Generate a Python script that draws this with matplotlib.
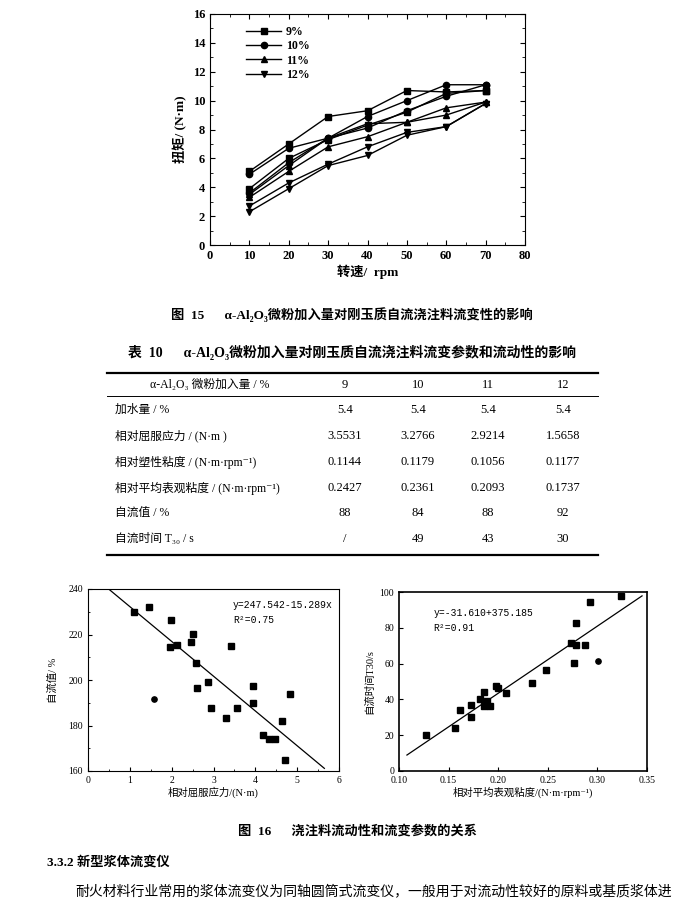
import matplotlib.pyplot as plt
from matplotlib.lines import Line2D
from matplotlib.ticker import MultipleLocator

plt.rcParams['font.family'] = ['Liberation Serif', 'Noto Sans CJK SC', 'DejaVu Serif']

# Fig 15 data: torque vs speed, up and down curves per dosage
speed = [10, 20, 30, 40, 50, 60, 70]
dosage_labels = ['9%', '10%', '11%', '12%']
markers = ['s', 'o', '^', 'v']
torque_up = [
    [5.1, 7.0, 8.9, 9.3, 10.7, 10.6, 10.7],
    [4.9, 6.7, 7.4, 8.9, 10.0, 11.1, 11.1],
    [3.5, 5.5, 7.4, 8.4, 8.5, 9.5, 9.9],
    [2.7, 4.3, 5.6, 6.8, 7.8, 8.2, 9.8],
]
torque_down = [
    [3.9, 6.0, 7.3, 8.3, 9.2, 10.5, 10.7],
    [3.6, 5.7, 7.4, 8.1, 9.3, 10.3, 11.1],
    [3.3, 5.1, 6.8, 7.5, 8.5, 9.0, 9.9],
    [2.3, 3.9, 5.5, 6.2, 7.6, 8.2, 9.8],
]

# Table 10
col_header = 'α-Al₂O₃ 微粉加入量 / %'
col_values = ['9', '10', '11', '12']
row_labels = ['加水量 / %', '相对屈服应力 / (N·m )', '相对塑性粘度 / (N·m·rpm⁻¹)',
              '相对平均表观粘度 / (N·m·rpm⁻¹)', '自流值 / %', '自流时间 T₃₀ / s']
row_values = [
    ['5.4', '5.4', '5.4', '5.4'],
    ['3.5531', '3.2766', '2.9214', '1.5658'],
    ['0.1144', '0.1179', '0.1056', '0.1177'],
    ['0.2427', '0.2361', '0.2093', '0.1737'],
    ['88', '84', '88', '92'],
    ['/', '49', '43', '30'],
]

# Fig 16 left: flow value vs relative yield stress
yield_x = [1.10, 1.47, 1.99, 1.96, 2.12, 2.52, 2.46, 2.58, 2.61, 2.86, 2.94, 3.29,
           3.43, 3.57, 3.95, 3.94, 4.19, 4.32, 4.46, 4.63, 4.71, 4.83]
yield_y = [229.7, 232.1, 226.3, 214.4, 215.6, 220.3, 216.6, 207.4, 196.6, 199.3, 187.6, 183.5,
           214.9, 187.9, 197.4, 189.9, 176.0, 173.9, 173.9, 181.8, 164.9, 193.8]
yield_out_x = [1.57]
yield_out_y = [191.5]
fit1_a, fit1_b = 247.542, -15.289
fit1_range = [0.49, 5.65]

# Fig 16 right: flow time vs relative mean apparent viscosity
visc_x = [0.127, 0.156, 0.161, 0.173, 0.173, 0.182, 0.186, 0.186, 0.189, 0.192, 0.198, 0.200,
          0.208, 0.234, 0.248, 0.273, 0.276, 0.278, 0.278, 0.288, 0.293, 0.324]
visc_y = [20.3, 24.2, 34.3, 37.1, 30.2, 40.2, 44.1, 36.3, 39.1, 36.3, 47.3, 46.4,
          43.4, 49.2, 56.4, 71.5, 60.5, 82.5, 70.4, 70.4, 94.6, 97.6]
visc_out_x = [0.301]
visc_out_y = [61.6]
fit2_a, fit2_b = -31.610, 375.185
fit2_range = [0.108, 0.345]

W, H = 700, 917
fig = plt.figure(figsize=(7, 9.17), dpi=100)


def fx(px):
    return px / W


def fy(py):
    return 1 - py / H


def hline(x0, x1, y, lw):
    fig.add_artist(Line2D([fx(x0), fx(x1)], [fy(y), fy(y)], color='black', lw=lw,
                          transform=fig.transFigure))


# ---- Fig 15 ----
ax = fig.add_axes([fx(210), fy(245), fx(525) - fx(210), fy(14) - fy(245)])
for i in range(4):
    ax.plot(speed, torque_up[i], color='black', lw=1, marker=markers[i], ms=4.5,
            label=dosage_labels[i])
    ax.plot(speed, torque_down[i], color='black', lw=1, marker=markers[i], ms=4.5)
ax.set_xlim(0, 80)
ax.set_ylim(0, 16)
ax.xaxis.set_major_locator(MultipleLocator(10))
ax.xaxis.set_minor_locator(MultipleLocator(5))
ax.yaxis.set_major_locator(MultipleLocator(2))
ax.yaxis.set_minor_locator(MultipleLocator(1))
ax.tick_params(which='both', direction='in', top=True, right=True)
ax.tick_params(labelsize=9)
for lab in ax.get_xticklabels() + ax.get_yticklabels():
    lab.set_fontweight('bold')
ax.set_xlabel('转速/  rpm', fontsize=9.5, fontweight='bold', labelpad=2)
ax.set_ylabel('扭矩/ (N·m)', fontsize=9.5, fontweight='bold', labelpad=4)
ax.legend(loc='upper left', bbox_to_anchor=(0.08, 0.995), frameon=False,
          handlelength=3.0, handletextpad=0.4, labelspacing=0.2,
          prop={'weight': 'bold', 'size': 8.5})

fig.text(fx(352), fy(315), '图  15      α-Al₂O₃微粉加入量对刚玉质自流浇注料流变性的影响',
         ha='center', va='center', fontsize=9.5, fontweight='bold')

# ---- Table 10 ----
fig.text(fx(352), fy(352), '表  10      α-Al₂O₃微粉加入量对刚玉质自流浇注料流变参数和流动性的影响',
         ha='center', va='center', fontsize=10, fontweight='bold')
hline(107, 598, 373, 1.6)
hline(107, 598, 396, 0.7)
hline(107, 598, 555, 1.6)
col_x = [345, 418, 488, 563]
fig.text(fx(210), fy(385), col_header, ha='center', va='center', fontsize=8.5)
for cx, v in zip(col_x, col_values):
    fig.text(fx(cx), fy(385), v, ha='center', va='center', fontsize=9)
row_y = [410, 436, 462, 488, 513, 539]
for ry, lab, vals in zip(row_y, row_labels, row_values):
    fig.text(fx(115), fy(ry), lab, ha='left', va='center', fontsize=8.5)
    for cx, v in zip(col_x, vals):
        fig.text(fx(cx), fy(ry), v, ha='center', va='center', fontsize=9)

# ---- Fig 16 left ----
ax1 = fig.add_axes([fx(88), fy(771), fx(339) - fx(88), fy(589) - fy(771)])
ax1.plot(yield_x, yield_y, 's', color='black', ms=3.8)
ax1.plot(yield_out_x, yield_out_y, 'o', color='black', ms=3.8)
ax1.plot(fit1_range, [fit1_a + fit1_b * x for x in fit1_range], color='black', lw=0.9)
ax1.set_xlim(0, 6)
ax1.set_ylim(160, 240)
ax1.xaxis.set_major_locator(MultipleLocator(1))
ax1.xaxis.set_minor_locator(MultipleLocator(0.5))
ax1.yaxis.set_major_locator(MultipleLocator(20))
ax1.yaxis.set_minor_locator(MultipleLocator(10))
ax1.tick_params(which='both', direction='in', labelsize=7, length=3)
ax1.tick_params(which='minor', length=1.5)
ax1.set_xlabel('相对屈服应力/(N·m)', fontsize=7.5, labelpad=1)
ax1.set_ylabel('自流值/ %', fontsize=7.5, labelpad=8)
ax1.text(3.47, 233, 'y=247.542-15.289x', fontsize=7, family='Liberation Mono', va='center')
ax1.text(3.47, 226.2, 'R²=0.75', fontsize=7, family='Liberation Mono', va='center')

# ---- Fig 16 right ----
ax2 = fig.add_axes([fx(399), fy(771), fx(647) - fx(399), fy(592) - fy(771)])
ax2.plot(visc_x, visc_y, 's', color='black', ms=3.8)
ax2.plot(visc_out_x, visc_out_y, 'o', color='black', ms=3.8)
ax2.plot(fit2_range, [fit2_a + fit2_b * x for x in fit2_range], color='black', lw=0.9)
ax2.set_xlim(0.10, 0.35)
ax2.set_ylim(0, 100)
ax2.xaxis.set_major_locator(MultipleLocator(0.05))
ax2.yaxis.set_major_locator(MultipleLocator(20))
ax2.xaxis.set_major_formatter(plt.FuncFormatter(lambda v, p: '%.2f' % v))
ax2.tick_params(which='both', direction='in', labelsize=7, length=3)
for s in ax2.spines.values():
    s.set_linewidth(1.2)
ax2.set_xlabel('相对平均表观粘度/(N·m·rpm⁻¹)', fontsize=7.5, labelpad=1)
ax2.set_ylabel('自流时间T30/s', fontsize=7.5, labelpad=4)
ax2.text(0.135, 88.4, 'y=-31.610+375.185', fontsize=7, family='Liberation Mono', va='center')
ax2.text(0.135, 79.9, 'R²=0.91', fontsize=7, family='Liberation Mono', va='center')

# ---- captions and body text ----
fig.text(fx(357), fy(831), '图  16      浇注料流动性和流变参数的关系', ha='center', va='center',
         fontsize=9.5, fontweight='bold')
fig.text(fx(47), fy(862), '3.3.2 新型浆体流变仪', ha='left', va='center', fontsize=9.5,
         fontweight='bold')
fig.text(fx(75), fy(891), '耐火材料行业常用的浆体流变仪为同轴圆筒式流变仪，一般用于对流动性较好的原料或基质浆体进',
         ha='left', va='center', fontsize=10)

fig.savefig('out.png', dpi=100)
